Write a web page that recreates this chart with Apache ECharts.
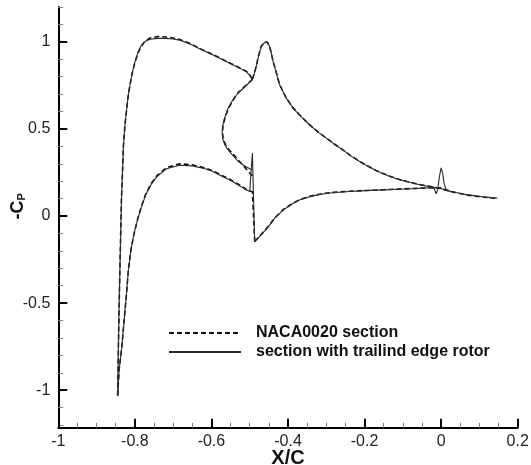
<!DOCTYPE html>
<html><head><meta charset="utf-8">
<script src="https://cdn.jsdelivr.net/npm/echarts@6/dist/echarts.min.js"></script>
<style>html,body{margin:0;padding:0;background:#fff}#c{width:531px;height:465px}</style>
</head><body><div id="c"></div><script>
// ---- data (x/c, -Cp) ----
const nacaUpper = [[-0.845,-1.03],[-0.843,-0.75],[-0.841,-0.5],[-0.839,-0.3],[-0.837,-0.1],[-0.835,0.1],[-0.832,0.27],[-0.83,0.4],[-0.826,0.52],[-0.822,0.6],[-0.818,0.68],[-0.813,0.75],[-0.807,0.82],[-0.8,0.88],[-0.792,0.935],[-0.783,0.975],[-0.773,1.005],[-0.76,1.022],[-0.74,1.03],[-0.72,1.028],[-0.7,1.022],[-0.683,1.014],[-0.652,0.987],[-0.631,0.962],[-0.596,0.927],[-0.552,0.879],[-0.509,0.831],[-0.5,0.81],[-0.493,0.785]];
const nacaRear = [[-0.493,0.785],[-0.488,0.82],[-0.483,0.86],[-0.477,0.92],[-0.47,0.975],[-0.462,0.996],[-0.455,1.0],[-0.449,0.98],[-0.444,0.94],[-0.439,0.889],[-0.43,0.82],[-0.422,0.755],[-0.405,0.68],[-0.387,0.621],[-0.365,0.57],[-0.344,0.525],[-0.32,0.48],[-0.3,0.448],[-0.28,0.415],[-0.257,0.381],[-0.235,0.345],[-0.213,0.314],[-0.196,0.292],[-0.17,0.262],[-0.153,0.245],[-0.13,0.225],[-0.109,0.21],[-0.085,0.196],[-0.065,0.185],[-0.04,0.174],[-0.022,0.167],[0,0.158],[0.021,0.143],[0.045,0.131],[0.065,0.122],[0.09,0.114],[0.108,0.109],[0.13,0.104],[0.147,0.101]];
const nacaLoop = [[-0.493,0.785],[-0.51,0.75],[-0.531,0.707],[-0.545,0.66],[-0.557,0.611],[-0.565,0.56],[-0.57,0.515],[-0.571,0.475],[-0.569,0.439],[-0.563,0.41],[-0.554,0.381],[-0.541,0.35],[-0.527,0.314],[-0.511,0.275],[-0.497,0.24],[-0.492,0.23]];
const nacaLower = [[-0.845,-1.03],[-0.841,-0.88],[-0.834,-0.75],[-0.828,-0.596],[-0.822,-0.45],[-0.817,-0.309],[-0.81,-0.19],[-0.802,-0.1],[-0.793,-0.02],[-0.783,0.055],[-0.772,0.125],[-0.758,0.185],[-0.743,0.23],[-0.717,0.278],[-0.683,0.3],[-0.65,0.294],[-0.617,0.276],[-0.596,0.26],[-0.574,0.234],[-0.552,0.211],[-0.531,0.184],[-0.509,0.154],[-0.5,0.144],[-0.493,0.14],[-0.487,-0.146]];
const nacaAft = [[-0.487,-0.146],[-0.475,-0.118],[-0.462,-0.086],[-0.448,-0.05],[-0.435,-0.012],[-0.413,0.036],[-0.39,0.07],[-0.37,0.094],[-0.348,0.11],[-0.326,0.122],[-0.305,0.13],[-0.283,0.136],[-0.24,0.142],[-0.196,0.147],[-0.15,0.151],[-0.109,0.155],[-0.065,0.159],[-0.022,0.163],[0,0.16],[0.021,0.145]];

const rotorUpper = [[-0.845,-1.03],[-0.843,-0.75],[-0.841,-0.5],[-0.839,-0.3],[-0.837,-0.1],[-0.835,0.1],[-0.832,0.27],[-0.83,0.4],[-0.826,0.52],[-0.822,0.6],[-0.818,0.68],[-0.813,0.75],[-0.807,0.82],[-0.8,0.883],[-0.792,0.94],[-0.783,0.98],[-0.773,1.003],[-0.76,1.015],[-0.74,1.02],[-0.72,1.02],[-0.7,1.016],[-0.683,1.01],[-0.652,0.984],[-0.631,0.96],[-0.596,0.925],[-0.552,0.877],[-0.509,0.829],[-0.5,0.808],[-0.493,0.783]];
const rotorRear = [[-0.493,0.783],[-0.488,0.818],[-0.483,0.858],[-0.477,0.918],[-0.47,0.972],[-0.462,0.994],[-0.455,0.998],[-0.449,0.978],[-0.444,0.938],[-0.439,0.887],[-0.43,0.818],[-0.422,0.753],[-0.405,0.678],[-0.387,0.62],[-0.365,0.569],[-0.344,0.524],[-0.32,0.479],[-0.3,0.447],[-0.28,0.414],[-0.257,0.38],[-0.235,0.344],[-0.213,0.313],[-0.196,0.291],[-0.17,0.261],[-0.153,0.244],[-0.13,0.224],[-0.109,0.209],[-0.085,0.195],[-0.065,0.184],[-0.04,0.173],[-0.022,0.166],[0,0.157],[0.021,0.143],[0.045,0.132],[0.065,0.123],[0.09,0.116],[0.108,0.111],[0.13,0.106],[0.147,0.104]];
const rotorLoop = [[-0.493,0.783],[-0.51,0.748],[-0.531,0.705],[-0.546,0.66],[-0.558,0.611],[-0.566,0.56],[-0.571,0.515],[-0.572,0.475],[-0.57,0.439],[-0.565,0.41],[-0.557,0.381],[-0.545,0.35],[-0.531,0.316],[-0.515,0.29],[-0.5,0.272],[-0.493,0.265]];
const rotorLower = [[-0.845,-1.03],[-0.841,-0.88],[-0.834,-0.75],[-0.828,-0.596],[-0.822,-0.45],[-0.817,-0.309],[-0.81,-0.19],[-0.802,-0.1],[-0.793,-0.02],[-0.783,0.05],[-0.772,0.12],[-0.758,0.18],[-0.743,0.225],[-0.717,0.272],[-0.683,0.292],[-0.65,0.288],[-0.617,0.271],[-0.596,0.256],[-0.574,0.23],[-0.552,0.207],[-0.531,0.18],[-0.509,0.151],[-0.5,0.141],[-0.495,0.138],[-0.493,0.362],[-0.487,-0.146]];
const rotorAft = [[-0.487,-0.146],[-0.475,-0.12],[-0.462,-0.088],[-0.448,-0.052],[-0.435,-0.014],[-0.413,0.034],[-0.39,0.068],[-0.37,0.092],[-0.348,0.108],[-0.326,0.12],[-0.305,0.128],[-0.283,0.134],[-0.24,0.141],[-0.196,0.146],[-0.15,0.15],[-0.109,0.154],[-0.065,0.158],[-0.03,0.162],[-0.018,0.158],[-0.013,0.128],[-0.009,0.15],[-0.005,0.22],[0,0.276],[0.004,0.245],[0.008,0.185],[0.013,0.151],[0.021,0.145]];

const yLabelValues = [-1, -0.5, 0, 0.5, 1];
const yMinorValues = [-1.2,-1.1,-0.9,-0.8,-0.7,-0.6,-0.4,-0.3,-0.2,-0.1,0.1,0.2,0.3,0.4,0.6,0.7,0.8,0.9,1.1,1.2];
const xMinorValues = [-0.95,-0.9,-0.85,-0.75,-0.7,-0.65,-0.55,-0.5,-0.45,-0.35,-0.3,-0.25,-0.15,-0.1,-0.05,0.05,0.1,0.15];

const NAME_A = 'NACA0020 section';
const NAME_B = 'section with trailind edge rotor';
const FONT = '"Liberation Sans", Arial, sans-serif';

const dashStyle = {color:'#111', width:1.6, type:[5,3]};
const solidStyle = {color:'#2a2a2a', width:1.1, type:'solid'};
function mk(name, data, ls){
  return {name, type:'line', data, showSymbol:false, symbol:'none', lineStyle:ls, itemStyle:{color:ls.color}, animation:false, silent:true, z:ls.type==='solid'?3:2};
}
const series = [
  mk(NAME_A, nacaUpper, dashStyle), mk(NAME_A, nacaRear, dashStyle), mk(NAME_A, nacaLoop, dashStyle),
  mk(NAME_A, nacaLower, dashStyle), mk(NAME_A, nacaAft, dashStyle),
  mk(NAME_B, rotorUpper, solidStyle), mk(NAME_B, rotorRear, solidStyle), mk(NAME_B, rotorLoop, solidStyle),
  mk(NAME_B, rotorLower, solidStyle), mk(NAME_B, rotorAft, solidStyle)
];

const chart = echarts.init(document.getElementById('c'), null, {renderer:'canvas'});
chart.setOption({
  backgroundColor:'#fff',
  animation:false,
  grid:{left:58.3, right:13.3, top:7, bottom:37.3, containLabel:false, outerBoundsMode:'none'},
  legend:{
    data:[NAME_A, NAME_B], orient:'vertical', left:168, top:325, padding:0,
    itemWidth:72, itemHeight:10, itemGap:3,
    itemStyle:{opacity:0},
    textStyle:{fontSize:16, fontWeight:'bold', fontFamily:FONT, color:'#111', padding:[0,0,0,10], lineHeight:16},
    selectedMode:false
  },
  xAxis:[{
    type:'value', min:-1, max:0.2, interval:0.2, position:'bottom',
    name:'X/C', nameLocation:'middle', nameGap:21, nameMoveOverlap:false,
    nameTextStyle:{fontSize:20, fontWeight:'bold', fontFamily:FONT, color:'#111'},
    axisLine:{onZero:false, lineStyle:{color:'#000', width:2}},
    axisTick:{inside:true, length:9, lineStyle:{color:'#000', width:2}},
    axisLabel:{fontSize:16, fontFamily:FONT, color:'#222', margin:6},
    splitLine:{show:false}
  },{
    type:'value', min:-1, max:0.2, position:'bottom',
    axisLine:{show:false, onZero:false},
    axisTick:{show:true, inside:true, length:5, customValues:xMinorValues, lineStyle:{color:'#888', width:1}},
    axisLabel:{show:false},
    splitLine:{show:false}
  }],
  yAxis:[{
    type:'value', min:-1.215, max:1.2,
    name:'-C{p|P}', nameLocation:'middle', nameGap:31, nameRotate:90, nameMoveOverlap:false,
    nameTextStyle:{fontSize:18, fontWeight:'bold', fontFamily:FONT, color:'#111', padding:[0,0,0,22],
      rich:{p:{fontSize:11, fontWeight:'bold', fontFamily:FONT, color:'#111', padding:[8,0,0,0]}}},
    axisLine:{onZero:false, lineStyle:{color:'#000', width:2}},
    axisTick:{inside:true, length:9, customValues:yLabelValues, lineStyle:{color:'#000', width:2}},
    axisLabel:{fontSize:16, fontFamily:FONT, color:'#222', margin:8, customValues:yLabelValues},
    splitLine:{show:false}
  },{
    type:'value', min:-1.215, max:1.2, position:'left',
    axisLine:{show:false, onZero:false},
    axisTick:{show:true, inside:true, length:5, customValues:yMinorValues, lineStyle:{color:'#888', width:1}},
    axisLabel:{show:false},
    splitLine:{show:false}
  }],
  series
});
</script></body></html>
